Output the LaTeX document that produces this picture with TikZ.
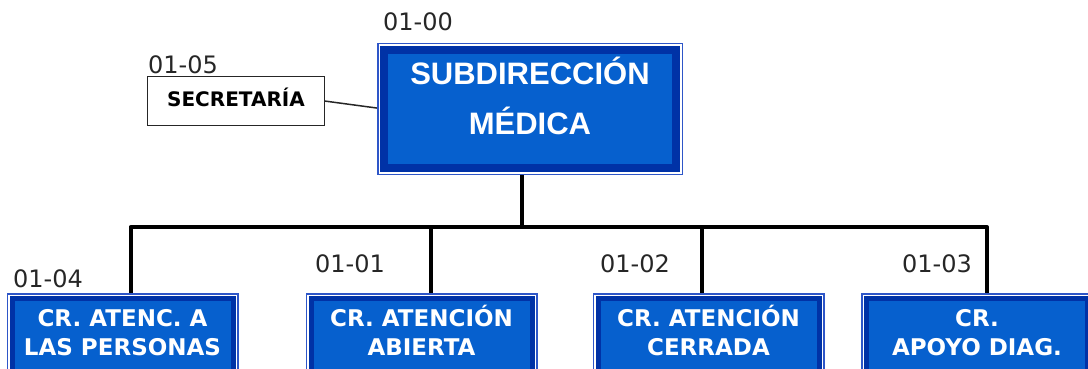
\documentclass[tikz,border=0pt]{standalone}
\usepackage{fontspec}
\setmainfont{Liberation Sans}
\newfontfamily\tahoma{DejaVu Sans}
\usetikzlibrary{backgrounds}
\definecolor{boxfill}{RGB}{6,96,206}
\definecolor{boxdark}{RGB}{0,50,166}
\definecolor{boxline}{RGB}{46,86,200}

\begin{document}
\begin{tikzpicture}[x=1pt,y=-1pt,thin]
\tikzstyle{unit}=[rectangle, fill=boxfill, draw=boxdark, line width=5pt, preaction={draw=boxline, line width=11pt}, preaction={draw=white, line width=8pt}, text=white, align=center, inner sep=0pt, outer sep=0pt, minimum width=221pt, minimum height=77pt, text height=52pt, text depth=15pt, font=\tahoma\bfseries\fontsize{23}{29}\selectfont]
\tikzstyle{head}=[unit, line width=8pt, preaction={draw=boxline, line width=14pt}, preaction={draw=white, line width=11pt}, minimum width=292pt, minimum height=118pt, text height=80pt, text depth=30pt, font=\bfseries\fontsize{31}{50}\selectfont]
\tikzstyle{sec}=[rectangle, draw=black!85, fill=white, line width=1.5pt, inner sep=0pt, outer sep=0pt, minimum width=177pt, minimum height=49pt, text height=15pt, text depth=4pt, font=\tahoma\bfseries\fontsize{20}{24}\selectfont]
\tikzstyle{code}=[anchor=west, inner sep=0pt, text=black!85, font=\tahoma\fontsize{24}{28}\selectfont]
\tikzstyle{conn}=[draw=black, line width=4pt, line join=round]

\useasboundingbox (0,0) rectangle (1088,369);
\clip (0,0) rectangle (1088,369);

\node[head] (SM) at (530,109) {SUBDIRECCIÓN\\MÉDICA};
\node[sec]  (SEC) [left of=SM, node distance=294pt, yshift=8pt] {SECRETARÍA};
\node[unit] (CAP) [below of=SM, node distance=228pt, xshift=-407.5pt] {CR. ATENC. A\\LAS PERSONAS};
\node[unit] (CAA) [right of=CAP, node distance=299pt] {CR. ATENCIÓN\\ABIERTA};
\node[unit] (CAC) [right of=CAA, node distance=287pt] {CR. ATENCIÓN\\CERRADA};
\node[unit] (CAD) [right of=CAC, node distance=268.5pt] {CR.\\APOYO DIAG.};

% codes
\node[code] (L00) at (383,21.5) {01-00};
\node[code] (L05) at (148,65) {01-05};
\node[code] (L04) at (13,279) {01-04};
\node[code] (L01) at (315,264) {01-01};
\node[code] (L02) at (600,264) {01-02};
\node[code] (L03) at (902,264) {01-03};

% lines
\coordinate (top) at ([xshift=-8pt]SM.south);
\coordinate (bar) at (522,227);
\coordinate (d1) at ([xshift=8pt]CAP.north);
\coordinate (d2) at ([xshift=9pt]CAA.north);
\coordinate (d3) at ([xshift=-7pt]CAC.north);
\coordinate (d4) at ([xshift=10pt]CAD.north);
\begin{scope}[on background layer]
\draw[black!85, line width=1.5pt] (SEC.east) -- (SM.west);
\draw[conn] (top) -- (bar);
\draw[conn] (d1) |- (d4 |- bar) -- (d4);
\draw[conn] (d2) -- (d2 |- bar);
\draw[conn] (d3) -- (d3 |- bar);
\end{scope}
\end{tikzpicture}
\end{document}
